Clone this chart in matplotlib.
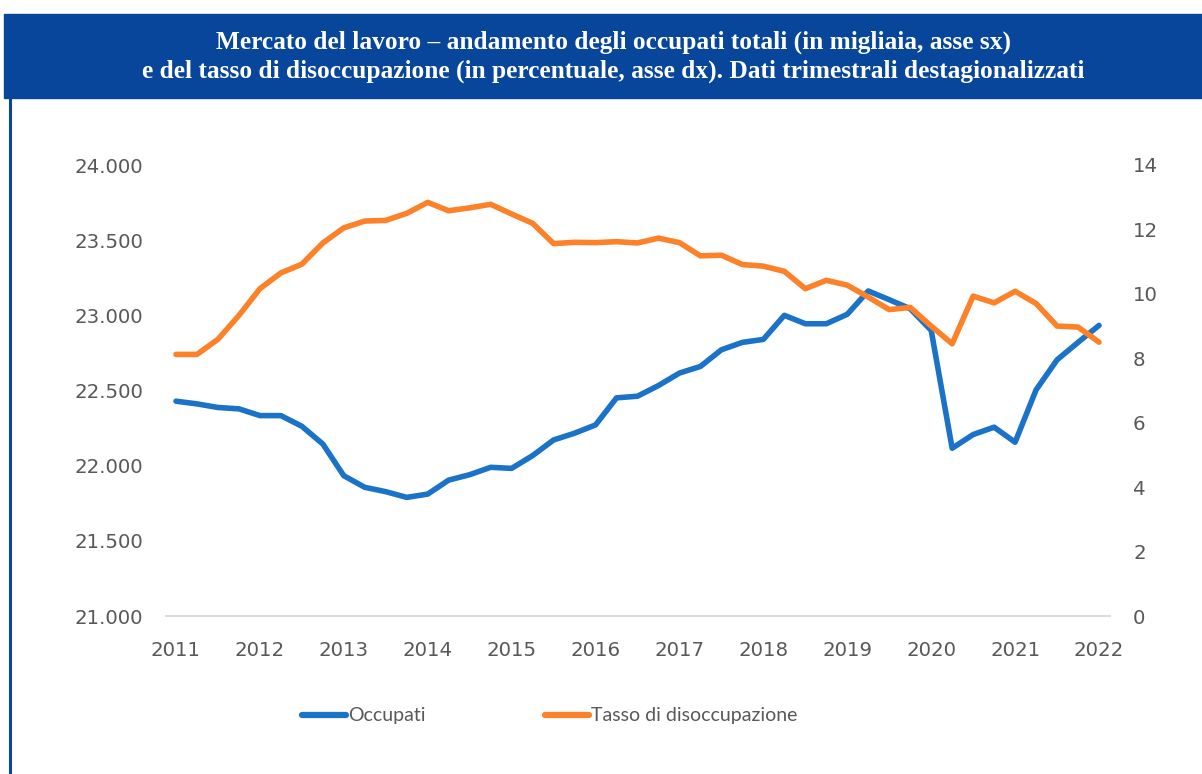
import matplotlib
matplotlib.use("Agg")
import matplotlib.pyplot as plt
from matplotlib.lines import Line2D
from matplotlib.patches import Rectangle

# ---- data ----
years = [str(y) for y in range(2011, 2023)]
occupati = [22429, 22411, 22387, 22378, 22333, 22333, 22262, 22144,
            21933, 21856, 21827, 21789, 21811, 21904, 21940, 21989,
            21982, 22067, 22171, 22216, 22271, 22451, 22462, 22533,
            22616, 22660, 22771, 22820, 22840, 23000, 22944, 22944,
            23007, 23162, 23104, 23044, 22900, 22116, 22207, 22256,
            22156, 22504, 22704, 22820, 22933]
tasso = [8.12, 8.12, 8.59, 9.33, 10.16, 10.65, 10.92, 11.58,
         12.05, 12.26, 12.28, 12.50, 12.84, 12.58, 12.67, 12.78,
         12.48, 12.19, 11.56, 11.60, 11.59, 11.62, 11.58, 11.73,
         11.59, 11.18, 11.20, 10.91, 10.86, 10.70, 10.16, 10.42,
         10.27, 9.90, 9.51, 9.58, 9.00, 8.45, 9.93, 9.72,
         10.08, 9.70, 9.00, 8.97, 8.50]
left_ticks = [21000, 21500, 22000, 22500, 23000, 23500, 24000]
left_labels = ["21.000", "21.500", "22.000", "22.500", "23.000", "23.500", "24.000"]
right_ticks = [0, 2, 4, 6, 8, 10, 12, 14]
series_names = ["Occupati", "Tasso di disoccupazione"]

title = ("Mercato del lavoro \u2013 andamento degli occupati totali (in migliaia, asse sx)\n"
         "e del tasso di disoccupazione (in percentuale, asse dx). Dati trimestrali destagionalizzati")

BLUE = "#1a73c8"
ORANGE = "#fd8128"
BAR = "#07469a"
TICKC = "#595959"

W, H = 1202, 774
fig = plt.figure(figsize=(W / 100, H / 100), dpi=100)

# title bar & left border
fig.patches.append(Rectangle((4 / W, 1 - 98 / H), 1 - 4 / W, 84 / H,
                             transform=fig.transFigure, color=BAR, zorder=0))
fig.add_artist(Line2D([10.5 / W, 10.5 / W], [0, 1 - 98 / H], transform=fig.transFigure,
                      color=BAR, lw=2.2))
fig.text(613 / W, 1 - 57 / H, title, ha="center", va="center", color="white",
         fontsize=18.3, fontweight="bold", family="Liberation Serif", linespacing=1.3)

left, right = 165.5 / W, 1109.5 / W
bottom, top = 1 - 616 / H, 1 - 165 / H
ax = fig.add_axes([left, bottom, right - left, top - bottom])
ax2 = ax.twinx()

x = list(range(len(occupati)))
ax.plot(x, occupati, color=BLUE, lw=4.0, solid_capstyle="round", solid_joinstyle="round",
        zorder=3)
ax2.plot(x, tasso, color=ORANGE, lw=4.0, solid_capstyle="round", solid_joinstyle="round",
         zorder=3)

ax.set_xlim(-0.5, len(occupati) - 0.5)
ax.set_ylim(21000, 24000)
ax2.set_ylim(0, 14)
ax.set_xticks(list(range(0, len(occupati), 4)))
ax.set_xticklabels(years)
ax.set_yticks(left_ticks)
ax.set_yticklabels(left_labels)
ax2.set_yticks(right_ticks)

for a in (ax, ax2):
    for s in a.spines.values():
        s.set_visible(False)
    a.tick_params(length=0, colors=TICKC, labelsize=14.2)
    for lab in a.get_xticklabels() + a.get_yticklabels():
        lab.set_family("DejaVu Sans")
ax.spines["bottom"].set_visible(True)
ax.spines["bottom"].set_color("#d9d9d9")
ax.spines["bottom"].set_linewidth(1.3)
ax.tick_params(axis="x", pad=18)
ax.tick_params(axis="y", pad=16)
ax2.tick_params(axis="y", pad=17)

fs = 14
leg_font = {"family": "Lato", "size": fs}
for color, name, x0 in [(BLUE, series_names[0], 302), (ORANGE, series_names[1], 545)]:
    h = Line2D([], [], color=color, lw=4.5, solid_capstyle="round")
    fig.legend([h], [name], loc="center left", bbox_to_anchor=(x0 / W, 1 - 716 / H),
               frameon=False, borderpad=0, borderaxespad=0,
               handlelength=31.7 / fs, handletextpad=0.12,
               prop=leg_font, labelcolor=TICKC)

fig.savefig("out.png", dpi=100)
